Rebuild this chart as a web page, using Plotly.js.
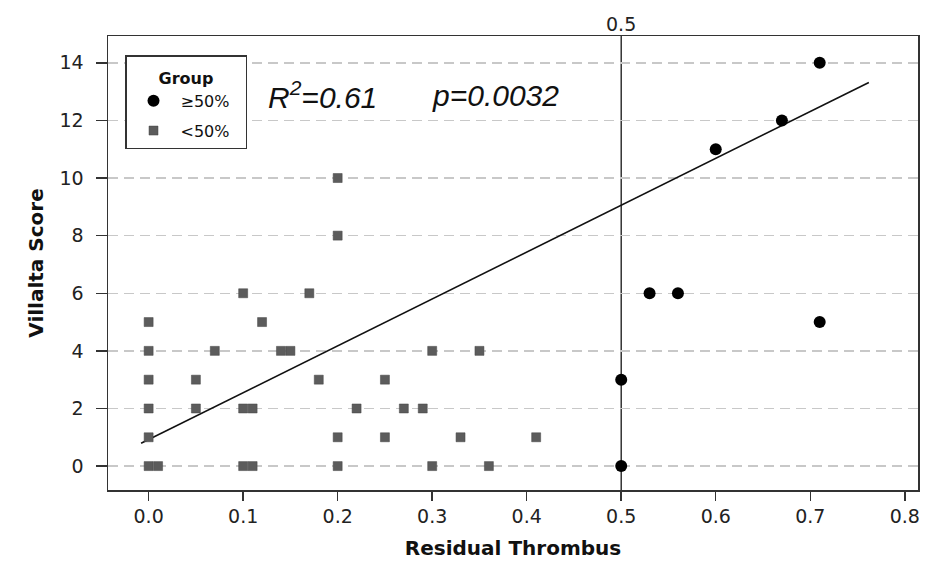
<!DOCTYPE html>
<html>
<head>
<meta charset="utf-8">
<script src="https://cdn.plot.ly/plotly-3.0.1.min.js"></script>
<style>
html,body{margin:0;padding:0;background:#fff;}
#chart{width:940px;height:569px;}
</style>
</head>
<body>
<div id="chart"></div>
<script>
// ≥50% group (black circles)
var highX = [0.50, 0.50, 0.53, 0.56, 0.60, 0.67, 0.71, 0.71];
var highY = [0, 3, 6, 6, 11, 12, 14, 5];

// <50% group (grey squares)
var lowX = [0.00, 0.00, 0.00, 0.00, 0.00, 0.00, 0.01,
            0.05, 0.05, 0.07,
            0.10, 0.10, 0.11, 0.10, 0.11,
            0.12, 0.14, 0.15, 0.17, 0.18,
            0.20, 0.20, 0.20, 0.20,
            0.22, 0.25, 0.25, 0.27, 0.29,
            0.30, 0.30, 0.33, 0.35, 0.36, 0.41];
var lowY = [5, 4, 3, 2, 1, 0, 0,
            3, 2, 4,
            6, 2, 2, 0, 0,
            5, 4, 4, 6, 3,
            10, 8, 1, 0,
            2, 3, 1, 2, 2,
            4, 0, 1, 4, 0, 1];

// regression line
var fitIntercept = 0.92;
var fitSlope = 16.27;
var fitXRange = [-0.008, 0.762];
var fitX = fitXRange.slice();
var fitY = fitX.map(function (x) { return fitIntercept + fitSlope * x; });

var xTickVals = [0, 0.1, 0.2, 0.3, 0.4, 0.5, 0.6, 0.7, 0.8];
var xTickText = ['0.0', '0.1', '0.2', '0.3', '0.4', '0.5', '0.6', '0.7', '0.8'];
var yTickVals = [0, 2, 4, 6, 8, 10, 12, 14];
var refLineX = 0.5;
var statR2 = '0.61';
var statP = '0.0032';
var groupNames = ['≥50%', '<50%'];

var tickFont = {family: 'DejaVu Sans, Verdana, sans-serif', size: 19, color: '#222'};
var titleFont = {family: 'DejaVu Sans, Verdana, sans-serif', size: 20, color: '#111', weight: 'bold'};
var statFont = {family: 'Liberation Sans, Arial, sans-serif', size: 30, color: '#111'};

var traces = [
  {
    x: fitX, y: fitY, mode: 'lines', type: 'scatter', showlegend: false,
    line: {color: '#111', width: 1.6}, hoverinfo: 'skip'
  },
  {
    x: highX, y: highY, mode: 'markers', type: 'scatter', name: groupNames[0] + '&nbsp;&nbsp;',
    legendgroup: 'g1',
    marker: {symbol: 'circle', size: 12, color: '#000'}
  },
  {
    x: lowX, y: lowY, mode: 'markers', type: 'scatter', name: groupNames[1] + '&nbsp;&nbsp;',
    legendgroup: 'g2',
    marker: {symbol: 'square', size: 9, color: '#5c5c5c', line: {color: '#444', width: 0.5}}
  }
];

var layout = {
  width: 940, height: 569,
  margin: {l: 108, r: 22, t: 36, b: 79},
  paper_bgcolor: '#fff', plot_bgcolor: '#fff',
  showlegend: true,
  legend: {
    x: 0.021, y: 0.958, xanchor: 'left', yanchor: 'top',
    bgcolor: '#fff', bordercolor: '#333', borderwidth: 1.5,
    font: {family: 'DejaVu Sans, Verdana, sans-serif', size: 16, color: '#111'},
    title: {text: '<span style="font-size:16px"><b>Group</b></span>', side: 'top center',
            font: {family: 'DejaVu Sans, Verdana, sans-serif', size: 21, color: '#111'}},
    traceorder: 'grouped', tracegroupgap: 6, itemwidth: 44
  },
  xaxis: {
    range: [-0.043, 0.814],
    tickvals: xTickVals, ticktext: xTickText,
    ticks: 'outside', ticklen: 9, tickwidth: 1.5, tickcolor: '#333',
    showline: true, mirror: true, linecolor: '#333', linewidth: 1.5,
    showgrid: false, zeroline: false,
    tickfont: tickFont,
    title: {text: 'Residual Thrombus', font: titleFont, standoff: 14}
  },
  yaxis: {
    range: [-0.83, 14.93],
    tickvals: yTickVals,
    ticks: 'outside', ticklen: 11, tickwidth: 1.5, tickcolor: '#333',
    ticklabelstandoff: 8,
    showline: true, mirror: true, linecolor: '#333', linewidth: 1.5,
    showgrid: true, gridcolor: '#c8c8c8', gridwidth: 1.5, griddash: '10px,6px',
    zeroline: false,
    tickfont: tickFont,
    title: {text: 'Villalta Score', font: titleFont, standoff: 10}
  },
  shapes: [
    {type: 'line', xref: 'x', yref: 'paper', x0: refLineX, x1: refLineX, y0: 0, y1: 1,
     line: {color: '#333', width: 1.5}, layer: 'below'}
  ],
  annotations: [
    {xref: 'x', yref: 'paper', x: refLineX, y: 1, yanchor: 'bottom', xanchor: 'center',
     yshift: -1, showarrow: false, text: '0.5', font: tickFont},
    {xref: 'x', yref: 'y', x: 0.124, y: 12.88, xanchor: 'left', yanchor: 'middle',
     showarrow: false, text: '<i>R<sup>2</sup>=' + statR2 + '</i>', font: statFont},
    {xref: 'x', yref: 'y', x: 0.298, y: 12.88, xanchor: 'left', yanchor: 'middle',
     showarrow: false, text: '<i>p=' + statP + '</i>', font: statFont}
  ]
};

Plotly.newPlot('chart', traces, layout, {displayModeBar: false, staticPlot: true});
</script>
</body>
</html>
